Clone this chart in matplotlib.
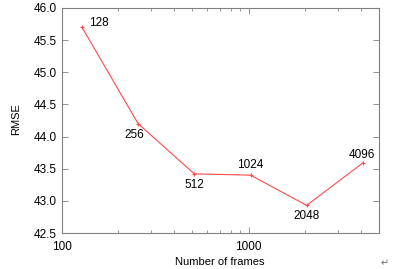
import matplotlib
matplotlib.use("Agg")
import matplotlib.pyplot as plt
from matplotlib.ticker import LogLocator, FixedLocator, NullFormatter, FixedFormatter

frames = [128, 256, 512, 1024, 2048, 4096]
rmse = [45.70, 44.20, 43.42, 43.40, 42.93, 43.59]
labels = ["128", "256", "512", "1024", "2048", "4096"]
label_offsets = [(12, 3), (-3, -8), (0, -8), (0, 7), (0, -8), (-1, 6)]
yticks = [42.5, 43.0, 43.5, 44.0, 44.5, 45.0, 45.5, 46.0]

plt.rcParams['font.family'] = ['Liberation Sans', 'DejaVu Sans']
fig = plt.figure(figsize=(4.01, 2.69), dpi=100)
ax = fig.add_axes([62/401, 1-233/269, (379-62)/401, (233-8)/269])

ax.plot(frames, rmse, color='#ff4a4a', lw=0.8, marker='+', ms=3, mew=0.8)
ax.set_xscale('log')
ax.set_xlim(100, 5000)
ax.set_ylim(42.5, 46.0)

ax.xaxis.set_major_locator(FixedLocator([100, 1000]))
ax.xaxis.set_major_formatter(FixedFormatter(["100", "1000"]))
ax.xaxis.set_minor_locator(LogLocator(base=10, subs=range(2, 10)))
ax.xaxis.set_minor_formatter(NullFormatter())
ax.set_yticks(yticks)
ax.set_yticklabels([f"{v:.1f}" for v in yticks])

ax.tick_params(which='both', direction='in', top=True, right=True,
               colors='#808080', labelcolor='black', labelsize=8.5, width=0.6)
ax.tick_params(which='major', length=4, pad=4)
ax.tick_params(axis='x', which='major', pad=5.5)
ax.tick_params(which='minor', length=2.5)
for s in ax.spines.values():
    s.set_color('#808080')
    s.set_linewidth(0.8)

for x, y, t, off in zip(frames, rmse, labels, label_offsets):
    ax.annotate(t, (x, y), xytext=off, textcoords='offset points',
                ha='center', va='center', fontsize=8.5, color='black')

fig.text(219.5/401, 1-262/269, "Number of frames", ha='center', va='center', fontsize=8)
fig.text(16/401, 1-119/269, "RMSE", ha='center', va='center', rotation=90, fontsize=8)
fig.text(385/401, 1-263/269, "\u21b5", ha='center', va='center', fontsize=7,
         color='#707070', family=['DejaVu Sans'])

fig.savefig("out.png", dpi=100)
